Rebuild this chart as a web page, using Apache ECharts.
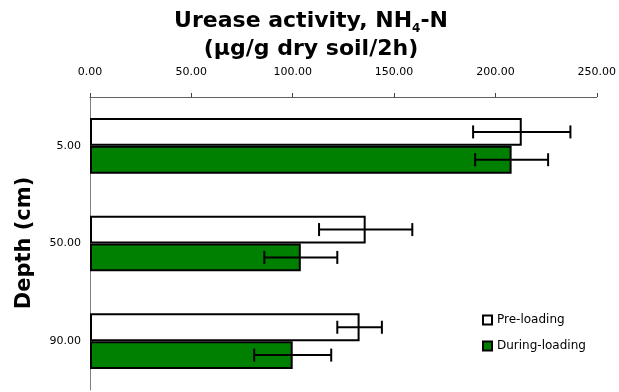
<!DOCTYPE html>
<html><head><meta charset="utf-8">
<script src="https://cdn.jsdelivr.net/npm/echarts@6/dist/echarts.min.js"></script>
<style>html,body{margin:0;padding:0;background:#fff}#c{width:619px;height:392px}</style>
</head><body><div id="c"></div>
<script>
const categories = ['5.00', '50.00', '90.00'];
const preLoading = [213, 136, 133];
const preErr = [24, 23, 11];
const duringLoading = [208, 104, 100];
const duringErr = [18, 18, 19];
const xTicks = [0, 50, 100, 150, 200, 250];

const chart = echarts.init(document.getElementById('c'));
const BW = 0.285;
function errData(vals, errs) {
  return vals.map((v, i) => [i, v - errs[i], v + errs[i]]);
}
function errRender(sign) {
  return function (params, api) {
    const c = api.value(0);
    const lo = api.coord([api.value(1), c]);
    const hi = api.coord([api.value(2), c]);
    const band = api.size([0, 1])[1];
    const y = lo[1] + sign * band * BW / 2;
    const cap = 6.5;
    const st = { stroke: '#000', lineWidth: 2 };
    return { type: 'group', children: [
      { type: 'line', shape: { x1: lo[0], y1: y, x2: hi[0], y2: y }, style: st },
      { type: 'line', shape: { x1: lo[0], y1: y - cap, x2: lo[0], y2: y + cap }, style: st },
      { type: 'line', shape: { x1: hi[0], y1: y - cap, x2: hi[0], y2: y + cap }, style: st }
    ]};
  };
}
chart.setOption({
  animation: false,
  title: {
    text: 'Urease activity, NH{sub|4}-N\n(µg/g dry soil/2h)',
    left: 306, textAlign: 'center', top: 2,
    textStyle: {
      fontFamily: 'DejaVu Sans', fontWeight: 'bold', fontSize: 22, lineHeight: 28, color: '#000',
      rich: { sub: { fontFamily: 'DejaVu Sans', fontWeight: 'bold', fontSize: 12, verticalAlign: 'bottom', padding: [10, 0, 0, 0] } }
    }
  },
  graphic: [{
    type: 'text', x: 25, y: 243, rotation: Math.PI / 2,
    style: { text: 'Depth (cm)', fontFamily: 'DejaVu Sans', fontWeight: 'bold', fontSize: 21, fill: '#000', align: 'center', verticalAlign: 'middle' }
  }],
  legend: {
    orient: 'vertical', left: 477, top: 309,
    itemWidth: 9, itemHeight: 9, itemGap: 14, icon: 'rect',
    textStyle: { fontFamily: 'DejaVu Sans', fontSize: 12, color: '#000' },
    data: ['Pre-loading', 'During-loading']
  },
  grid: { left: 90, right: 21, top: 97, bottom: 2 },
  xAxis: {
    type: 'value', position: 'top', min: 0, max: 250, interval: 50,
    axisLine: { show: true, lineStyle: { color: '#606060' } },
    axisTick: { show: true, length: 4, lineStyle: { color: '#404040' } },
    splitLine: { show: false },
    axisLabel: { margin: 19, fontFamily: 'DejaVu Sans', fontSize: 11, color: '#000',
      formatter: v => xTicks.includes(v) ? v.toFixed(2) : '' }
  },
  yAxis: {
    type: 'category', data: categories, inverse: true,
    axisLine: { lineStyle: { color: '#808080' } },
    axisTick: { length: 4, lineStyle: { color: '#404040' } },
    axisLabel: { margin: 9, fontFamily: 'DejaVu Sans', fontSize: 11, color: '#000' }
  },
  series: [
    { name: 'Pre-loading', type: 'bar', data: preLoading, barWidth: (BW * 100) + '%', barGap: '0%',
      itemStyle: { color: '#fff', borderColor: '#000', borderWidth: 2 } },
    { name: 'During-loading', type: 'bar', data: duringLoading, barWidth: (BW * 100) + '%', barGap: '0%',
      itemStyle: { color: '#008000', borderColor: '#000', borderWidth: 2 } },
    { type: 'custom', renderItem: errRender(-1), data: errData(preLoading, preErr),
      encode: { x: [1, 2], y: 0 }, z: 5 },
    { type: 'custom', renderItem: errRender(1), data: errData(duringLoading, duringErr),
      encode: { x: [1, 2], y: 0 }, z: 5 }
  ]
});
</script></body></html>
